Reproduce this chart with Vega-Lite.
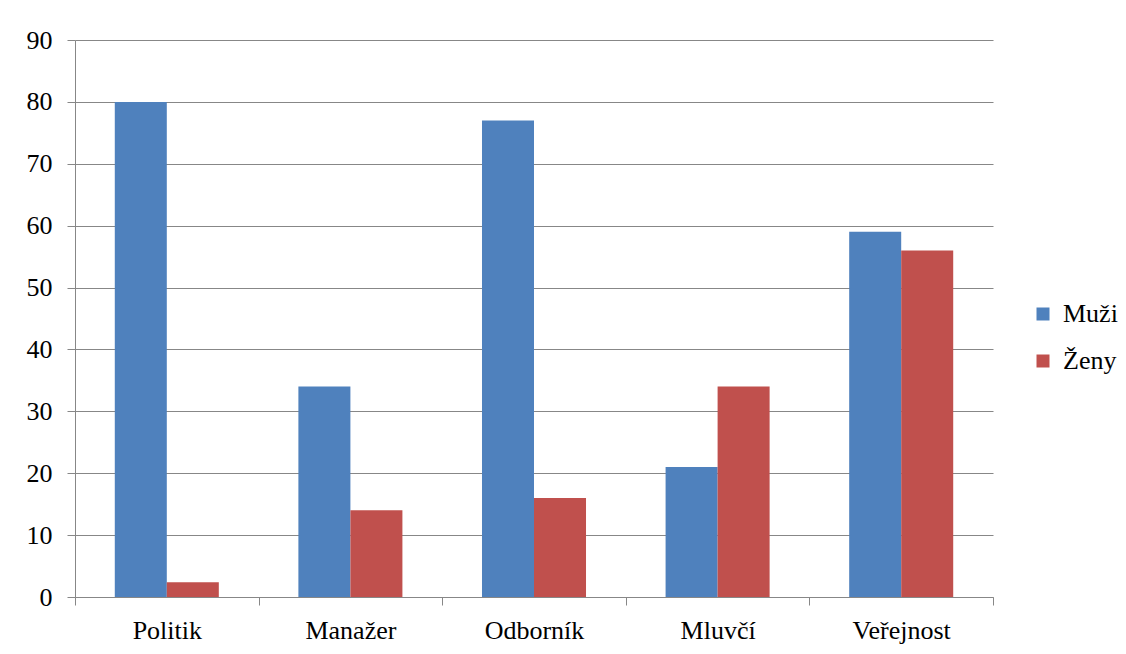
{
  "$schema": "https://vega.github.io/schema/vega-lite/v6.json",
  "width": 918,
  "height": 557,
  "autosize": {"type": "none"},
  "padding": {"left": 75, "top": 40, "right": 133, "bottom": 57},
  "background": "white",
  "config": {
    "view": {"stroke": null}
  },
  "data": {
    "values": [
      {"kat": "Politik", "pohlavi": "Muži", "hodnota": 80},
      {"kat": "Politik", "pohlavi": "Ženy", "hodnota": 2.4},
      {"kat": "Manažer", "pohlavi": "Muži", "hodnota": 34},
      {"kat": "Manažer", "pohlavi": "Ženy", "hodnota": 14},
      {"kat": "Odborník", "pohlavi": "Muži", "hodnota": 77},
      {"kat": "Odborník", "pohlavi": "Ženy", "hodnota": 16},
      {"kat": "Mluvčí", "pohlavi": "Muži", "hodnota": 21},
      {"kat": "Mluvčí", "pohlavi": "Ženy", "hodnota": 34},
      {"kat": "Veřejnost", "pohlavi": "Muži", "hodnota": 59},
      {"kat": "Veřejnost", "pohlavi": "Ženy", "hodnota": 56}
    ]
  },
  "mark": {"type": "bar"},
  "encoding": {
    "x": {
      "field": "kat",
      "type": "nominal",
      "sort": ["Politik", "Manažer", "Odborník", "Mluvčí", "Veřejnost"],
      "scale": {"paddingInner": 0, "paddingOuter": 0},
      "axis": {
        "title": null,
        "labelAngle": 0,
        "labelFont": "Liberation Serif",
        "labelFontSize": 26,
        "labelColor": "#000000",
        "labelPadding": 12,
        "tickBand": "extent",
        "tickSize": 8,
        "tickColor": "#878787",
        "domainColor": "#878787",
        "grid": false
      }
    },
    "xOffset": {"field": "pohlavi", "type": "nominal", "scale": {"paddingInner": 0, "paddingOuter": 0.765}},
    "y": {
      "field": "hodnota",
      "type": "quantitative",
      "scale": {"domain": [0, 90], "nice": false},
      "axis": {
        "title": null,
        "values": [0, 10, 20, 30, 40, 50, 60, 70, 80, 90],
        "labelFont": "Liberation Serif",
        "labelFontSize": 26,
        "labelColor": "#000000",
        "labelPadding": 15,
        "tickSize": 8,
        "tickColor": "#878787",
        "domainColor": "#878787",
        "gridColor": "#878787",
        "gridOpacity": 1,
        "grid": true
      }
    },
    "color": {
      "field": "pohlavi",
      "type": "nominal",
      "scale": {"domain": ["Muži", "Ženy"], "range": ["#4F81BD", "#C0504D"]},
      "legend": {
        "title": null,
        "orient": "none",
        "legendX": 955,
        "legendY": 261,
        "symbolType": "square",
        "symbolSize": 169,
        "symbolStrokeWidth": 0,
        "labelFont": "Liberation Serif",
        "labelFontSize": 26,
        "labelColor": "#000000",
        "labelOffset": 7,
        "rowPadding": 21,
        "symbolOpacity": 1
      }
    }
  }
}
